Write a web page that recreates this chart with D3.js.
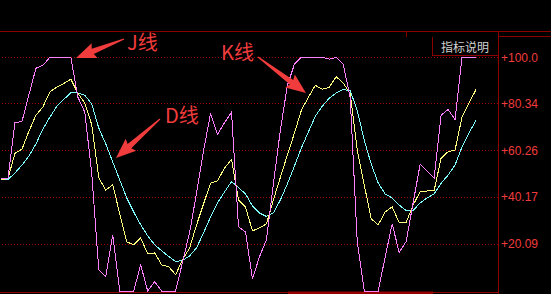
<!DOCTYPE html>
<html><head><meta charset="utf-8">
<script src="https://cdn.jsdelivr.net/npm/d3@7/dist/d3.min.js"></script>
<style>
html,body{margin:0;padding:0;background:#000;overflow:hidden}
svg{display:block}
</style></head>
<body>
<svg id="chart" width="551" height="294"></svg>
<script>
// ---- data ----
const jValues = [48,48.3,72,72.5,84,95.3,96.6,100,100,100,100,
  83,76.5,50,9,6.2,24,0,0,0,11.2,
  0,4,0,0,0,12.5,25,42,60,76,
  67,72,76.5,27.5,25.3,5.2,14.6,22,46,69,
  88,97,100,100,100,100,99.2,100,97,82.5,
  21,0,0,0,14.6,28.7,16.5,21.2,37.7,54.2,
  51.3,48.2,75.2,77.7,73.4,100,100,100];
const kValues = [47.5,48.2,58.9,60.7,68.4,75.2,78.8,85.2,87.3,88.8,90.6,
  84.6,80.4,71,48.4,43.2,45.4,33,21,19.8,22.7,
  15.9,16.3,11.2,10.4,7,13.4,18.4,28.3,37.3,46.2,
  47.2,52.6,56.3,39,36,25.7,27,28.7,39,48.7,
  58.2,67.5,77.3,82.9,88,86.3,87.2,91.7,88.9,84.5,
  60.3,45.4,30.9,28.3,33.8,36,29.3,29.3,36.8,42.5,
  42.8,42.9,56.8,59.6,60.3,74.5,80.4,86.2];
const dValues = [47.5,47.7,50.5,53.9,57.7,62.9,69.3,74.4,79.1,82,84.8,
  84.8,83.8,79.9,69.7,62.9,55.2,47.5,39.8,33.8,28.3,
  23.6,19.8,17.2,14.8,12.6,13.1,15,18.5,24.9,31.7,
  37.7,42.4,46.8,44.3,41.5,36.4,33.4,31.9,33.4,39,
  45.8,53.4,61.2,68,74.8,79.1,82.5,84.8,86.2,85.7,
  77.3,64.6,54.3,46.2,41.5,39.8,36.8,34.4,34.4,37.7,
  39.8,41.5,46.1,49.6,53.9,61.7,67.6,73.1];
const tickValues = [100, 80.34, 60.26, 40.17, 20.09];
const tickLabels = ["+100.0", "+80.34", "+60.26", "+40.17", "+20.09"];
const seriesNames = ["D", "K", "J"];
const annotations = [
  {text: "J线", x: 127, y: 50, ax1: 124, ay1: 39, ax2: 76, ay2: 58},
  {text: "K线", x: 221, y: 60, ax1: 258, ay1: 57, ax2: 306, ay2: 93},
  {text: "D线", x: 165, y: 123, ax1: 160, ay1: 119, ax2: 116, ay2: 158}
];

// ---- layout ----
const W = 551, H = 294;
const plotRight = 498;
const svg = d3.select("#chart");
svg.append("rect").attr("width", W).attr("height", H).attr("fill", "#000");

const x = d3.scaleLinear().domain([0, jValues.length - 1]).range([1, 476]);
const y = d3.scaleLinear().domain([0, 100]).range([291, 57.3]);

// grid
const grid = svg.append("g").attr("transform", `translate(${plotRight},0)`)
  .call(d3.axisLeft(y).tickValues(tickValues).tickSize(plotRight).tickFormat(""));
grid.select(".domain").remove();
grid.selectAll("line").attr("stroke", "#a00000").attr("stroke-dasharray", "1,2")
  .attr("shape-rendering", "crispEdges");

// frame lines
const frameColor = "#8c0000";
svg.append("line").attr("x1", 0).attr("x2", W).attr("y1", 31.5).attr("y2", 31.5)
  .attr("stroke", frameColor).attr("shape-rendering", "crispEdges");
svg.append("line").attr("x1", plotRight).attr("x2", W).attr("y1", 36.5).attr("y2", 36.5)
  .attr("stroke", frameColor).attr("shape-rendering", "crispEdges");
svg.append("line").attr("x1", 406.5).attr("x2", 406.5).attr("y1", 31).attr("y2", 37)
  .attr("stroke", frameColor).attr("shape-rendering", "crispEdges");
svg.append("line").attr("x1", 0).attr("x2", plotRight).attr("y1", 292.5).attr("y2", 292.5)
  .attr("stroke", frameColor).attr("shape-rendering", "crispEdges");
svg.append("rect").attr("x", 288).attr("y", 291.5).attr("width", 145).attr("height", 3)
  .attr("fill", "#960000");

// series lines
const colors = {D: "#80ffff", K: "#ffff80", J: "#ff80ff"};
const seriesData = {D: dValues, K: kValues, J: jValues};
const line = d3.line().x((d, i) => x(i)).y(d => y(d));
seriesNames.forEach(name => {
  svg.append("path").datum(seriesData[name])
    .attr("d", line).attr("fill", "none")
    .attr("stroke", colors[name]).attr("stroke-width", 1)
    .attr("shape-rendering", "crispEdges");
});

// right axis
const axis = svg.append("g").attr("transform", `translate(${plotRight},0)`)
  .call(d3.axisRight(y).tickValues(tickValues).tickSize(0).tickPadding(3)
    .tickFormat((d, i) => tickLabels[i]));
axis.select(".domain").remove();
axis.selectAll("text").attr("fill", "#f03c3c")
  .style("font-family", "'Liberation Sans', Arial, sans-serif").style("font-size", "12px");
svg.append("line").attr("x1", plotRight + 0.5).attr("x2", plotRight + 0.5).attr("y1", 31).attr("y2", H)
  .attr("stroke", frameColor).attr("shape-rendering", "crispEdges");

// 指标说明 box
svg.append("rect").attr("x", 432).attr("y", 37).attr("width", 66).attr("height", 18)
  .attr("fill", "#000");
svg.append("path").attr("d", "M432.5,37 V55.5 H498")
  .attr("stroke", frameColor).attr("fill", "none").attr("shape-rendering", "crispEdges");
svg.append("text").attr("x", 441).attr("y", 52).text("指标说明")
  .attr("fill", "#d2d2d2").style("font-family", "'Noto Sans CJK SC', sans-serif")
  .style("font-size", "12px");

// annotations
const red = "#f03c3c";
function arrowPoly(x1, y1, x2, y2) {
  const dx = x2 - x1, dy = y2 - y1, L = Math.hypot(dx, dy);
  const ux = dx / L, uy = dy / L, nx = -uy, ny = ux;
  const h = 18, hw = 8, sw0 = 0.6, sw1 = 2.8;
  const bx = x2 - ux * h, by = y2 - uy * h;
  const pts = [
    [x1 + nx * sw0, y1 + ny * sw0],
    [bx + nx * sw1, by + ny * sw1],
    [bx + nx * hw - ux * 2, by + ny * hw - uy * 2],
    [x2, y2],
    [bx - nx * hw - ux * 2, by - ny * hw - uy * 2],
    [bx - nx * sw1, by - ny * sw1],
    [x1 - nx * sw0, y1 - ny * sw0]
  ];
  return pts.map(p => p.join(",")).join(" ");
}
annotations.forEach(a => {
  svg.append("polygon").attr("points", arrowPoly(a.ax1, a.ay1, a.ax2, a.ay2)).attr("fill", red);
  svg.append("text").attr("x", a.x).attr("y", a.y).text(a.text)
    .attr("fill", red).style("font-family", "'Noto Sans CJK SC', sans-serif")
    .style("font-size", "20px");
});
</script>
</body></html>
